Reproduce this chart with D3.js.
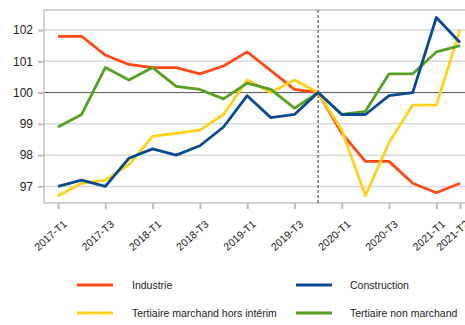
<!DOCTYPE html>
<html>
<head>
<meta charset="utf-8">
<script src="https://cdn.jsdelivr.net/npm/d3@7"></script>
<style>
  html, body { margin: 0; padding: 0; background: #fff; }
  svg { display: block; font-family: "Liberation Sans", Arial, sans-serif; }
</style>
</head>
<body>
<svg id="chart" width="465" height="325"></svg>
<script>
// Quarters (base 100 at 2019-T4)
const quarters = [
  "2017-T1","2017-T2","2017-T3","2017-T4",
  "2018-T1","2018-T2","2018-T3","2018-T4",
  "2019-T1","2019-T2","2019-T3","2019-T4",
  "2020-T1","2020-T2","2020-T3","2020-T4",
  "2021-T1","2021-T2"
];
const tickLabels = ["2017-T1","2017-T3","2018-T1","2018-T3","2019-T1","2019-T3","2020-T1","2020-T3","2021-T1","2021-T2"];
const yTicks = [97, 98, 99, 100, 101, 102];
const baseQuarter = "2019-T4";

const industrie = [101.8,101.8,101.2,100.9,100.8,100.8,100.6,100.85,101.3,100.7,100.1,100,98.7,97.8,97.8,97.1,96.8,97.1];
const construction = [97.0,97.2,97.0,97.9,98.2,98.0,98.3,98.9,99.9,99.2,99.3,100,99.3,99.3,99.9,100.0,102.4,101.6];
const tertiaireMarchand = [96.7,97.1,97.2,97.7,98.6,98.7,98.8,99.3,100.4,100.0,100.4,100,98.8,96.7,98.4,99.6,99.6,102.0];
const tertiaireNonMarchand = [98.9,99.3,100.8,100.4,100.8,100.2,100.1,99.8,100.3,100.1,99.5,100,99.3,99.4,100.6,100.6,101.3,101.5];

const seriesNames = ["Industrie","Construction","Tertiaire marchand hors intérim","Tertiaire non marchand"];
const seriesColors = ["#FF4A14","#0A4A8E","#FFD21E","#58A021"];
const seriesValues = [industrie, construction, tertiaireMarchand, tertiaireNonMarchand];

const svg = d3.select("#chart");
const W = 465;
const plot = { left: 44, top: 10, bottom: 203 };

const x = d3.scalePoint().domain(quarters).range([58, 460]);
const y = d3.scaleLinear().domain([96.47, 102.64]).range([plot.bottom, plot.top]);

// horizontal grid
svg.append("g").selectAll("line").data(yTicks).join("line")
  .attr("x1", plot.left).attr("x2", W)
  .attr("y1", d => y(d)).attr("y2", d => y(d))
  .attr("stroke", d => d === 100 ? "#555" : "#d9d9d9")
  .attr("stroke-width", d => d === 100 ? 1 : 1.5);

// frame (left and top)
svg.append("path")
  .attr("d", `M${plot.left},${plot.bottom}V${plot.top}H${W}`)
  .attr("fill", "none").attr("stroke", "#c4c4c4").attr("stroke-width", 1.5);

// y axis
const yAxis = svg.append("g")
  .attr("transform", `translate(${plot.left},0)`)
  .call(d3.axisLeft(y).tickValues(yTicks).tickSize(6).tickPadding(5).tickFormat(d3.format("d")));
yAxis.select(".domain").remove();
yAxis.selectAll(".tick line").attr("stroke", "#bdbdbd").attr("stroke-width", 2);
yAxis.selectAll(".tick text").attr("fill", "#222").style("font-size", "12px");

// x axis
const xAxis = svg.append("g")
  .attr("transform", `translate(0,${plot.bottom})`)
  .call(d3.axisBottom(x).tickValues(tickLabels).tickSize(6).tickPadding(4));
xAxis.select(".domain")
  .attr("d", `M${plot.left},0H${W}`)
  .attr("stroke", "#c4c4c4").attr("stroke-width", 1.5);
xAxis.selectAll(".tick line").attr("stroke", "#bdbdbd").attr("stroke-width", 2);
xAxis.selectAll(".tick text")
  .attr("fill", "#222")
  .style("font-size", "10.5px")
  .attr("text-anchor", "end")
  .attr("x", 0).attr("y", 0).attr("dy", 0)
  .attr("transform", "translate(9,22) rotate(-42)");

// base period marker
svg.append("line")
  .attr("x1", x(baseQuarter)).attr("x2", x(baseQuarter))
  .attr("y1", plot.top).attr("y2", plot.bottom)
  .attr("stroke", "#333").attr("stroke-width", 1)
  .attr("stroke-dasharray", "3,2");

// series lines
const line = d3.line().x((d, i) => x(quarters[i])).y(d => y(d));
const drawOrder = [0, 2, 3, 1];
svg.append("g").selectAll("path").data(drawOrder).join("path")
  .attr("d", k => line(seriesValues[k]))
  .attr("fill", "none")
  .attr("stroke", k => seriesColors[k])
  .attr("stroke-width", 2.8)
  .attr("stroke-linejoin", "round");

// legend
const legendPos = [
  { lx: 77, tx: 132, y: 285 },
  { lx: 296, tx: 350, y: 285 },
  { lx: 77, tx: 132, y: 313 },
  { lx: 296, tx: 350, y: 313 }
];
const legend = svg.append("g").selectAll("g").data(seriesNames).join("g");
legend.append("line")
  .attr("x1", (d, i) => legendPos[i].lx).attr("x2", (d, i) => legendPos[i].lx + 36)
  .attr("y1", (d, i) => legendPos[i].y).attr("y2", (d, i) => legendPos[i].y)
  .attr("stroke", (d, i) => seriesColors[i]).attr("stroke-width", 3);
legend.append("text")
  .attr("x", (d, i) => legendPos[i].tx).attr("y", (d, i) => legendPos[i].y)
  .attr("dy", "0.35em")
  .attr("fill", "#222")
  .style("font-size", "10.5px")
  .text(d => d);
</script>
</body>
</html>
